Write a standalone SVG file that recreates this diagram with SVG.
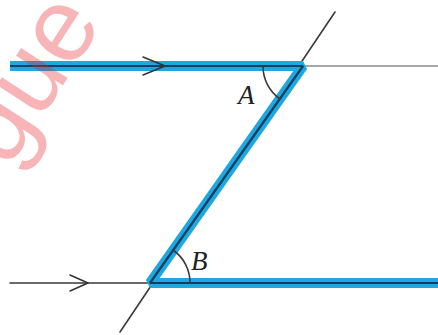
<svg xmlns="http://www.w3.org/2000/svg" width="438" height="335" viewBox="0 0 438 335">
<style>
.thin{stroke:#3a3a3a;stroke-width:1.6;fill:none;stroke-linecap:round}
.light{stroke:#8a8a8a;stroke-width:1.6;fill:none}
.band{stroke:#1ea7e1;stroke-width:10;fill:none;stroke-linejoin:bevel}
.core{stroke:#123f5e;stroke-width:2.2;fill:none;stroke-linejoin:bevel}
.chev{stroke:#333;stroke-width:1.5;fill:none;stroke-linecap:round;stroke-linejoin:round}
.lbl{font-family:"Liberation Serif",serif;font-style:italic;font-size:27px;fill:#222}
</style>
<g id="connectors">
  <line class="light" x1="303" y1="66" x2="438" y2="66"/>
  <line class="thin" x1="335" y1="12" x2="120" y2="332"/>
  <line class="thin" x1="10" y1="283" x2="150" y2="283"/>
  <path class="band" d="M10,66 L303,66 L150,283 L438,283"/>
  <path class="core" d="M10,66 L303,66 L150,283 L438,283"/>
  <path class="chev" d="M143,57 L165,66 L143,75"/>
  <path class="chev" d="M70,275 L88,283 L70,291"/>
</g>
<g id="angleA">
  <path class="thin" d="M263,66 A40,40 0 0 0 280,99"/>
  <text class="lbl" x="238" y="104">A</text>
</g>
<g id="angleB">
  <path class="thin" d="M173,250 A40,40 0 0 1 190,283"/>
  <text class="lbl" x="191" y="270">B</text>
</g>
<g id="watermark">
  <text transform="translate(8,170) rotate(-57)" font-family="Liberation Sans, sans-serif" font-size="105" fill="#eb1e28" fill-opacity="0.33">gue</text>
</g>
</svg>
